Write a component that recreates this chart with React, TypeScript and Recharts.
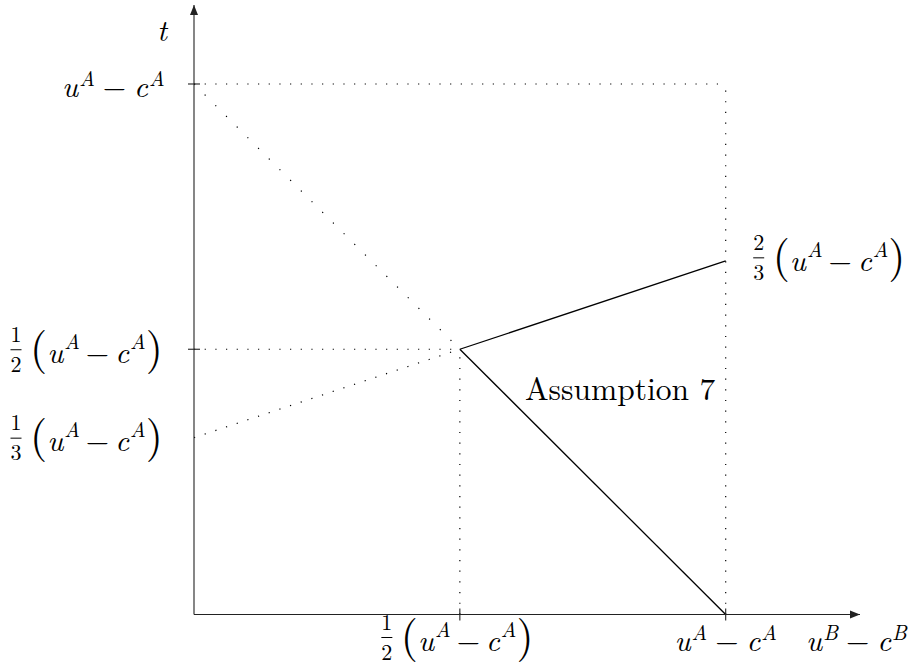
import { ComposedChart, Line, ReferenceDot, XAxis, YAxis } from 'recharts';

// axis ends (arrow tips), in units of u^A - c^A
const X_MAX = 1.2526;
const Y_MAX = 1.1489;

const xTicks = [0.5, 1];
const xTickFractions: Array<[string, string] | null> = [['1', '2'], null];
const xTickMarks = [true, true];

const yTicks = [1 / 3, 1 / 2, 1];
const yTickFractions: Array<[string, string] | null> = [['1', '3'], ['1', '2'], null];
const yTickMarks = [false, true, true];

// solid branches
const upperBranch = [
  { x: 0.5, y: 0.5 },
  { x: 1, y: 2 / 3 },
];
const lowerBranch = [
  { x: 0.5, y: 0.5 },
  { x: 1, y: 0 },
];

// dotted guides
const guideTop = [
  { x: 0, y: 1 },
  { x: 1, y: 1 },
];
const guideRight = [
  { x: 1, y: 0 },
  { x: 1, y: 1 },
];
const guideMidH = [
  { x: 0, y: 0.5 },
  { x: 0.5, y: 0.5 },
];
const guideMidV = [
  { x: 0.5, y: 0 },
  { x: 0.5, y: 0.5 },
];
const guideDiagTop = [
  { x: 0, y: 1 },
  { x: 0.5, y: 0.5 },
];
const guideDiagLow = [
  { x: 0, y: 1 / 3 },
  { x: 0.5, y: 0.5 },
];

const endLabelFraction: [string, string] = ['2', '3'];
const ANNOT_X = 0.6225;
const ANNOT_Y = 0.4043;
const ANNOT_TEXT = 'Assumption 7';

const SERIF = 'Latin Modern Roman';
const AXIS = '#222';
const INK = '#000';

function MathBody({
  x,
  y,
  anchor = 'start',
  sup = 'A',
  parens = false,
}: {
  x: number;
  y: number;
  anchor?: 'start' | 'middle' | 'end';
  sup?: string;
  parens?: boolean;
}) {
  const raise = parens ? 14 : 11;
  const gap = parens ? 6 : 8;
  return (
    <text x={x} y={y} textAnchor={anchor} fontFamily={SERIF} fontSize={30} fill={INK}>
      {parens && <tspan fontSize={44}>(</tspan>}
      <tspan fontStyle="italic">u</tspan>
      <tspan fontStyle="italic" fontSize={21} dx={1} dy={-raise}>{sup}</tspan>
      <tspan dx={gap} dy={raise}>−</tspan>
      <tspan fontStyle="italic" dx={gap}>c</tspan>
      <tspan fontStyle="italic" fontSize={21} dx={1} dy={-raise}>{sup}</tspan>
      {parens && <tspan fontSize={44} dx={0} dy={raise}>)</tspan>}
    </text>
  );
}

function Fraction({ cx, bar, num, den }: { cx: number; bar: number; num: string; den: string }) {
  return (
    <g>
      <text x={cx} y={bar - 8} textAnchor="middle" fontFamily={SERIF} fontSize={22} fill={INK}>
        {num}
      </text>
      <line x1={cx - 5.5} x2={cx + 5.5} y1={bar} y2={bar} stroke={INK} strokeWidth={1} />
      <text x={cx} y={bar + 22} textAnchor="middle" fontFamily={SERIF} fontSize={22} fill={INK}>
        {den}
      </text>
    </g>
  );
}

function MathLabel({ left, baseline, frac }: { left: number; baseline: number; frac: [string, string] }) {
  return (
    <g>
      <Fraction cx={left + 4} bar={baseline - 13} num={frac[0]} den={frac[1]} />
      <MathBody x={left + 18} y={baseline} parens />
    </g>
  );
}

function YTick(props: any) {
  const { x, y, index } = props;
  const frac = yTickFractions[index];
  return (
    <g>
      {yTickMarks[index] && <line x1={x - 6} x2={x + 6} y1={y} y2={y} stroke={AXIS} strokeWidth={1.1} />}
      {frac ? (
        <MathLabel left={x - 182} baseline={y + 13.5} frac={frac} />
      ) : (
        <MathBody x={x - 132} y={y + 13} />
      )}
    </g>
  );
}

function XTick(props: any) {
  const { x, y, index } = props;
  const frac = xTickFractions[index];
  return (
    <g>
      {xTickMarks[index] && <line x1={x} x2={x} y1={y - 6} y2={y + 6} stroke={AXIS} strokeWidth={1.1} />}
      {frac ? (
        <MathLabel left={x - 77} baseline={y + 36} frac={frac} />
      ) : (
        <MathBody x={x} y={y + 36} anchor="middle" />
      )}
    </g>
  );
}

function XArrow({ cx, cy }: any) {
  return (
    <g>
      <path d={`M${cx},${cy} L${cx - 10},${cy - 4} L${cx - 10},${cy + 4} Z`} fill={AXIS} />
      <MathBody x={cx - 54} y={cy + 36} sup="B" />
    </g>
  );
}

function YArrow({ cx, cy }: any) {
  return (
    <g>
      <path d={`M${cx},${cy} L${cx - 4},${cy + 10} L${cx + 4},${cy + 10} Z`} fill={AXIS} />
      <text x={cx - 37} y={cy + 36} fontFamily={SERIF} fontSize={30} fontStyle="italic" fill={INK}>
        t
      </text>
    </g>
  );
}

function EndLabel({ cx, cy }: any) {
  return <MathLabel left={cx + 29} baseline={cy + 10} frac={endLabelFraction} />;
}

function Annotation({ cx, cy }: any) {
  return (
    <text x={cx} y={cy} fontFamily={SERIF} fontSize={31.5} fill={INK}>
      {ANNOT_TEXT}
    </text>
  );
}

const dotted = (gap: number) => ({
  stroke: INK,
  strokeWidth: 1.2,
  strokeDasharray: `1.2 ${gap}`,
  dot: false,
  activeDot: false,
  isAnimationActive: false,
  type: 'linear' as const,
  dataKey: 'y',
});

export default function App() {
  return (
    <div style={{ position: 'absolute', left: 0, top: 0, background: '#fff', fontFamily: SERIF }}>
      <ComposedChart width={911} height={667} margin={{ top: 5, right: 51, bottom: 0, left: 0 }}>
        <XAxis
          dataKey="x"
          type="number"
          domain={[0, X_MAX]}
          ticks={xTicks}
          height={52.5}
          axisLine={{ stroke: AXIS, strokeWidth: 1.1 }}
          tickLine={false}
          tickSize={0}
          tickMargin={0}
          tick={(p: any) => <XTick {...p} />}
          interval={0}
          allowDataOverflow
        />
        <YAxis
          type="number"
          domain={[0, Y_MAX]}
          ticks={yTicks}
          width={194}
          axisLine={{ stroke: AXIS, strokeWidth: 1.1 }}
          tickLine={false}
          tickSize={0}
          tickMargin={0}
          tick={(p: any) => <YTick {...p} />}
          interval={0}
          allowDataOverflow
        />
        <Line data={guideTop} {...dotted(9.47)} />
        <Line data={guideRight} {...dotted(9.47)} />
        <Line data={guideMidH} {...dotted(9.47)} />
        <Line data={guideMidV} {...dotted(9.47)} />
        <Line data={guideDiagTop} {...dotted(13.9)} />
        <Line data={guideDiagLow} {...dotted(10.04)} />
        <Line
          data={upperBranch}
          dataKey="y"
          type="linear"
          stroke={INK}
          strokeWidth={1.3}
          dot={false}
          activeDot={false}
          isAnimationActive={false}
        />
        <Line
          data={lowerBranch}
          dataKey="y"
          type="linear"
          stroke={INK}
          strokeWidth={1.3}
          dot={false}
          activeDot={false}
          isAnimationActive={false}
        />
        <ReferenceDot x={X_MAX} y={0} r={0} ifOverflow="visible" shape={(p: any) => <XArrow {...p} />} />
        <ReferenceDot x={0} y={Y_MAX} r={0} ifOverflow="visible" shape={(p: any) => <YArrow {...p} />} />
        <ReferenceDot x={1} y={2 / 3} r={0} ifOverflow="visible" shape={(p: any) => <EndLabel {...p} />} />
        <ReferenceDot
          x={ANNOT_X}
          y={ANNOT_Y}
          r={0}
          ifOverflow="visible"
          shape={(p: any) => <Annotation {...p} />}
        />
      </ComposedChart>
    </div>
  );
}
